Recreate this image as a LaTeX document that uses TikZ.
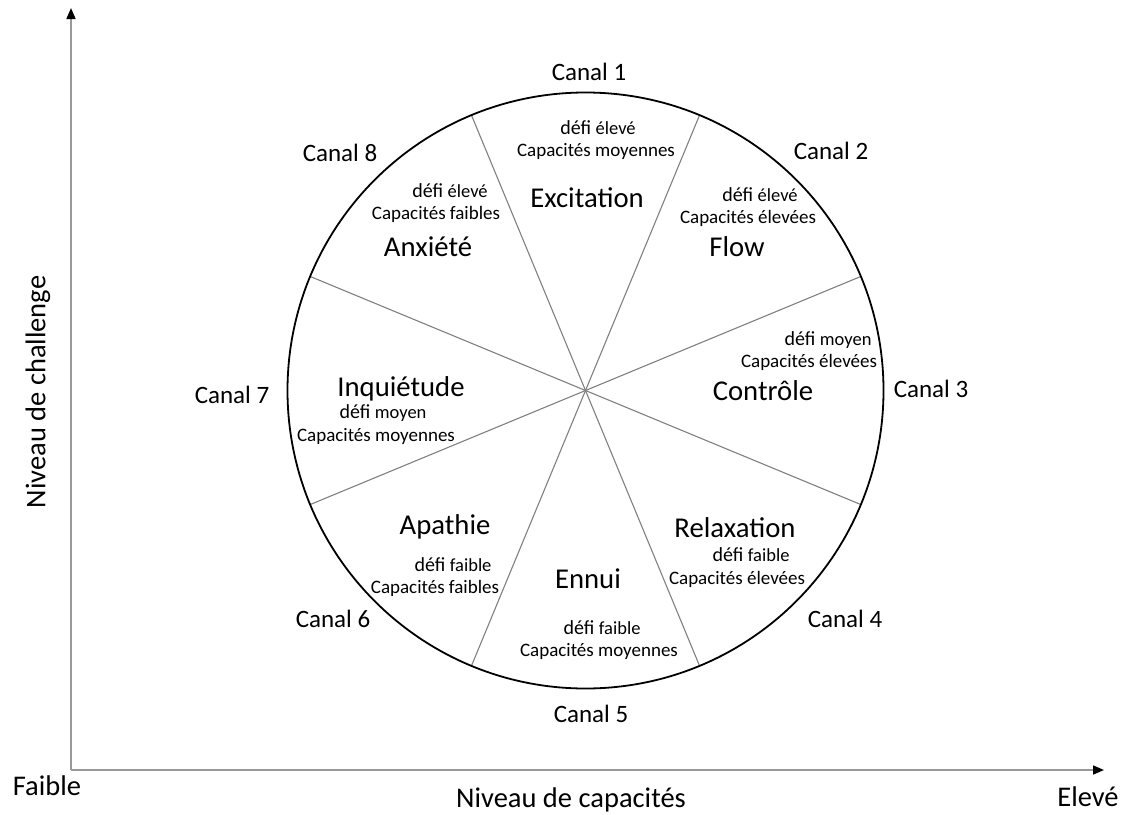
\documentclass[tikz,border=0pt]{standalone}
\usepackage{fontspec}
\setmainfont{Carlito}
\usetikzlibrary{arrows.meta,calc}
\newcommand{\dword}[2]{{\fontsize{20}{22}\selectfont #1}\hspace{0.45em}{\fontsize{18.5}{22}\selectfont #2}}
\begin{document}
\begin{tikzpicture}[x=1pt,y=-1pt,
  canal/.style={font=\fontsize{25}{28}\selectfont, inner sep=0pt},
  titre/.style={font=\fontsize{28.7}{32}\selectfont, inner sep=0pt},
  defi/.style={inner sep=0pt},
  capa/.style={font=\fontsize{19}{22}\selectfont, inner sep=0pt},
  axlab/.style={font=\fontsize{28.5}{32}\selectfont, inner sep=0pt},
  spoke/.style={draw=black!50, line width=1.1pt},
  axis/.style={draw=black!40, line width=1.6pt, -{Triangle[length=11pt,width=9pt,black]}}]
\useasboundingbox (0,0) rectangle (1126,814);
% axes
\coordinate (O) at (71,770);
\coordinate (Ytop) at (71,8);
\coordinate (Xend) at (1104,770);
\draw[axis] (O) -- (Ytop);
\draw[axis] (O) -- (Xend);
% circle
\coordinate (C) at (585.5,390.5);
\foreach \a in {22.5,67.5,112.5,157.5}{
  \draw[spoke] ($(C)+(\a:298)$) -- ($(C)+(\a+180:298)$);
}
\node[draw=black, line width=1.8pt, circle, minimum size=596pt, inner sep=0pt] (cercle) at (C) {};
% canals
\node[canal] (c1) at (589,72) {Canal 1};
\node[canal] (c2) at (831,151) {Canal 2};
\node[canal] (c3) at (931,389) {Canal 3};
\node[canal] (c4) at (845,619) {Canal 4};
\node[canal] (c5) at (591,714) {Canal 5};
\node[canal] (c6) at (333,619) {Canal 6};
\node[canal] (c7) at (232,395) {Canal 7};
\node[canal] (c8) at (340,153) {Canal 8};
% sector 1
\node[defi] (d1) at (598,128) {\dword{défi}{élevé}};
\node[capa] (k1) at (596,151) {Capacités moyennes};
\node[titre] (t1) at (587,198) {Excitation};
% sector 2
\node[defi] (d2) at (760,195) {\dword{défi}{élevé}};
\node[capa] (k2) at (748,218) {Capacités élevées};
\node[titre] (t2) at (737,247) {Flow};
% sector 3
\node[defi] (d3) at (828,340) {\dword{défi}{moyen}};
\node[capa] (k3) at (809,362) {Capacités élevées};
\node[titre] (t3) at (763,391) {Contrôle};
% sector 4
\node[titre] (t4) at (735,528) {Relaxation};
\node[defi] (d4) at (751,555) {\dword{défi}{faible}};
\node[capa] (k4) at (737,579) {Capacités élevées};
% sector 5
\node[titre] (t5) at (588,579) {Ennui};
\node[defi] (d5) at (602,628) {\dword{défi}{faible}};
\node[capa] (k5) at (599,651) {Capacités moyennes};
% sector 6
\node[titre] (t6) at (445,527) {Apathie};
\node[defi] (d6) at (453,565) {\dword{défi}{faible}};
\node[capa] (k6) at (435,588) {Capacités faibles};
% sector 7
\node[titre] (t7) at (401,389) {Inquiétude};
\node[defi] (d7) at (383,413) {\dword{défi}{moyen}};
\node[capa] (k7) at (376,436) {Capacités moyennes};
% sector 8
\node[defi] (d8) at (450,191) {\dword{défi}{élevé}};
\node[capa] (k8) at (436,214) {Capacités faibles};
\node[titre] (t8) at (428,247) {Anxiété};
% axis labels
\node[axlab] (fa) at (47,786) {Faible};
\node[axlab] (el) at (1088,797) {Elevé};
\node[axlab] (nc) at (571,800) {Niveau de capacités};
\node[axlab, rotate=90] (nch) at (38,392) {Niveau de challenge};
\end{tikzpicture}
\end{document}
